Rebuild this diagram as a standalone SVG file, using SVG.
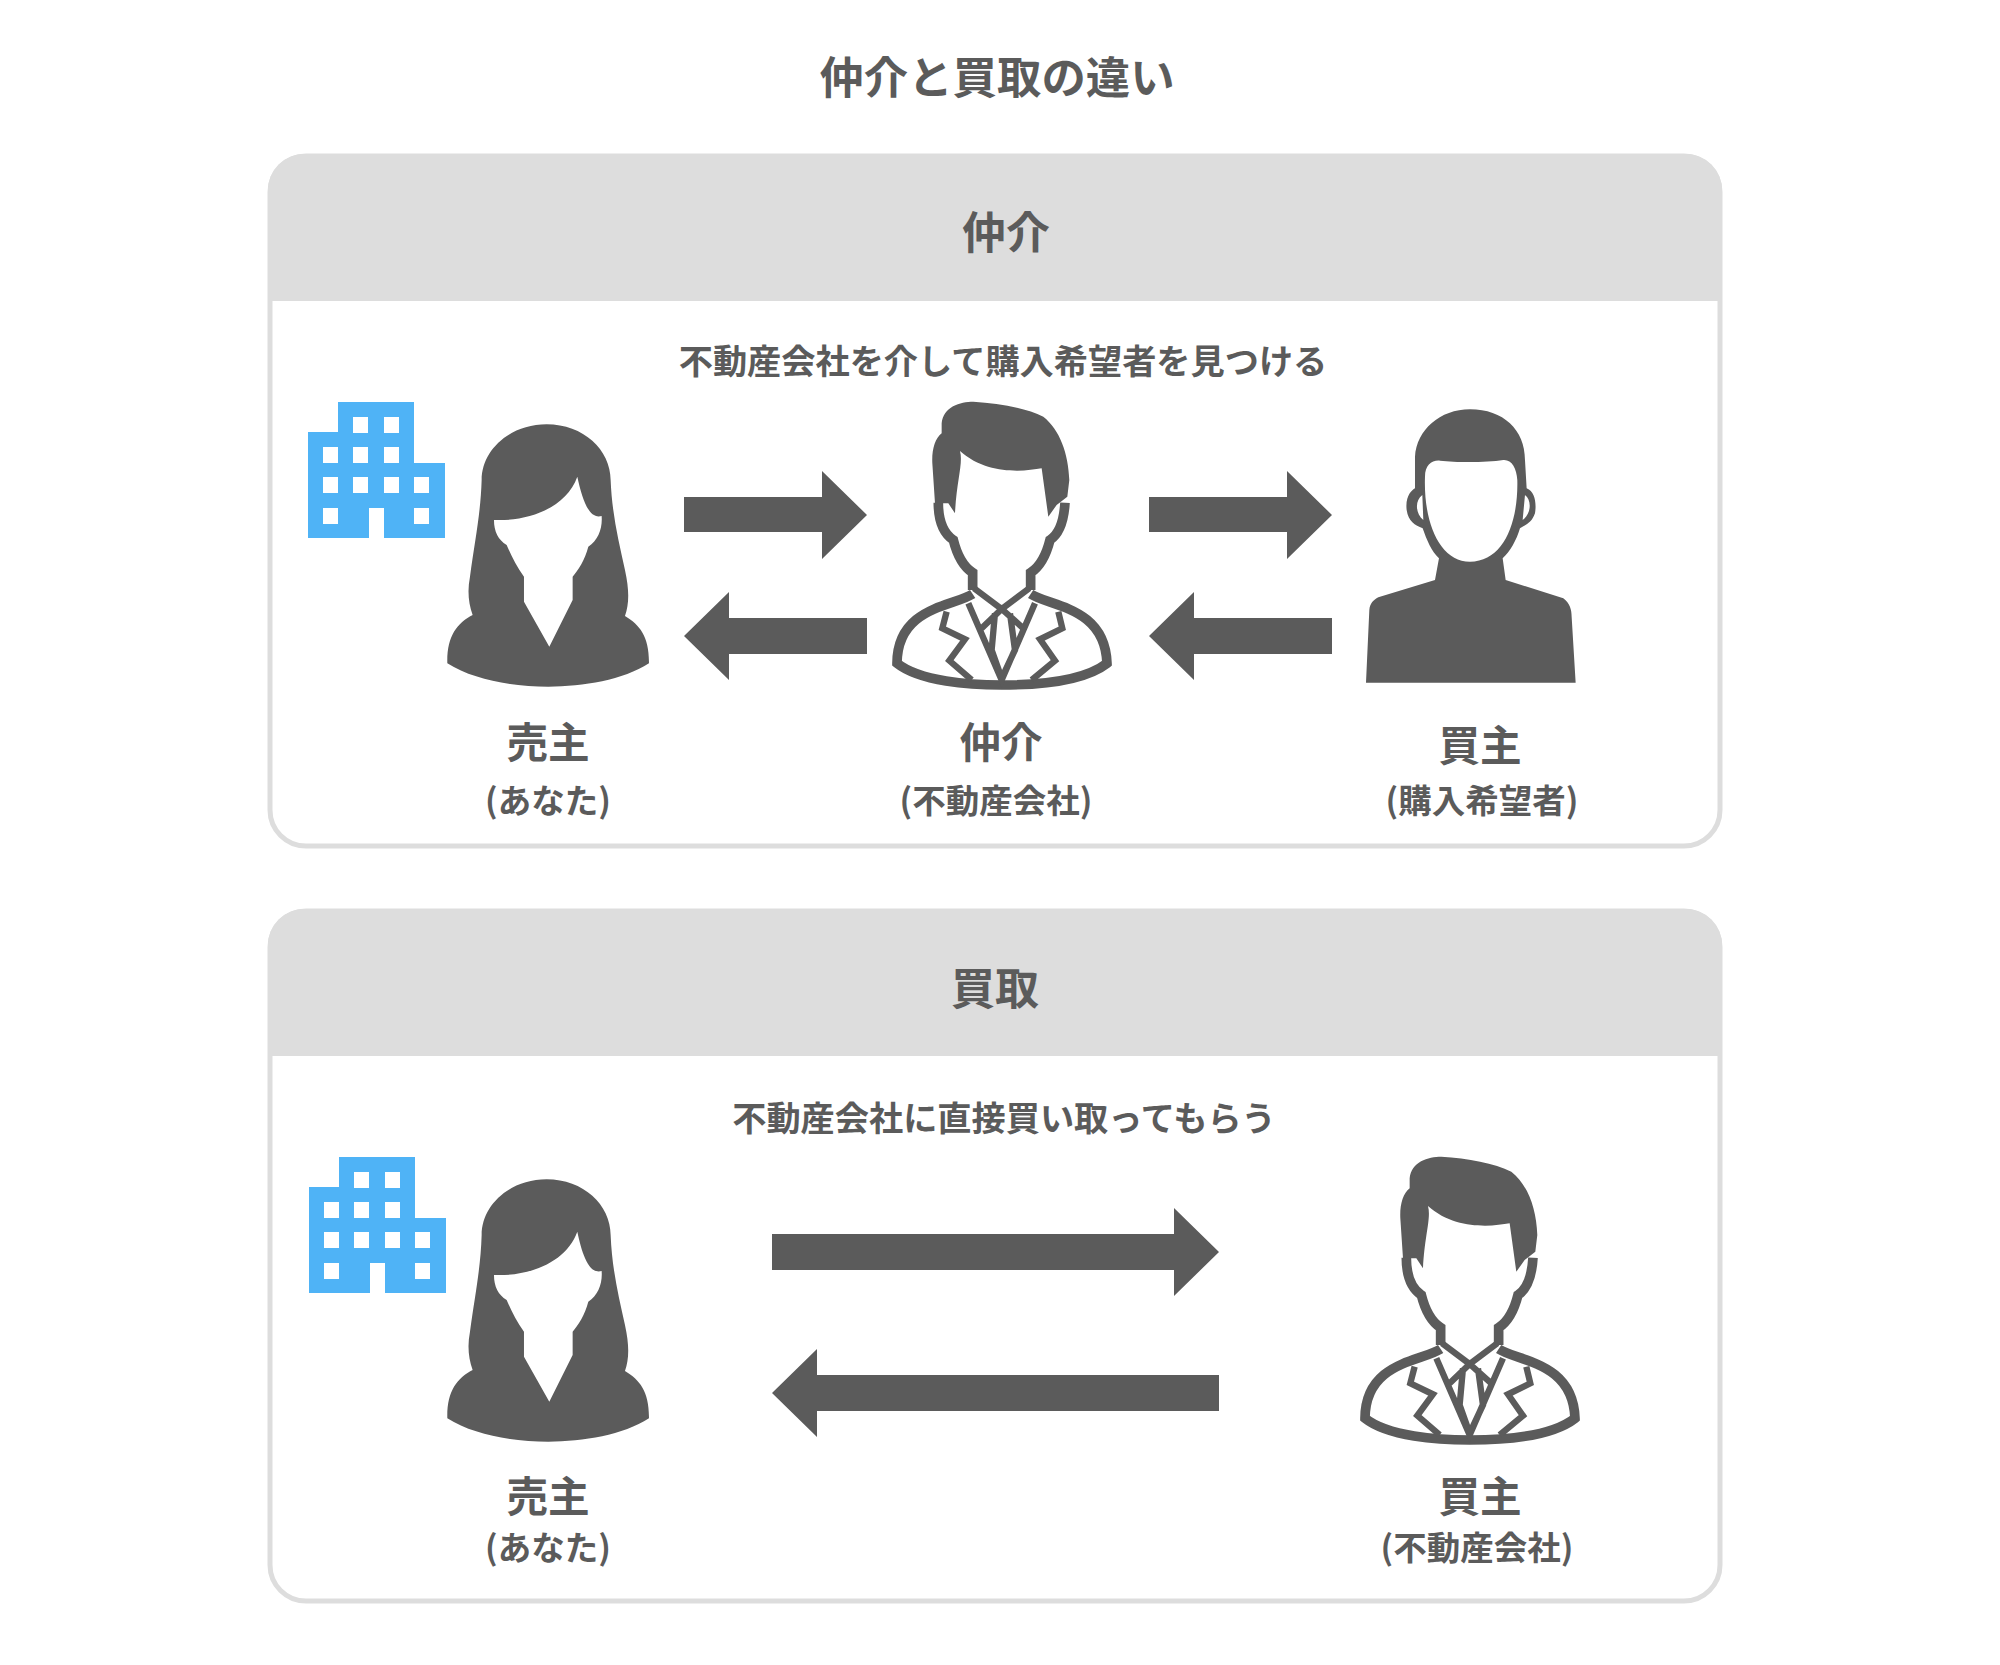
<svg xmlns="http://www.w3.org/2000/svg" xmlns:xlink="http://www.w3.org/1999/xlink" width="2000" height="1665" viewBox="0 0 2000 1665">
<style>
text{font-family:"Noto Sans CJK JP","Noto Sans",sans-serif;font-weight:700;fill:#5b5b5b;text-anchor:middle}
.d{fill:#5b5b5b}
.w{fill:#fff}
.l{fill:none;stroke:#5b5b5b;stroke-width:29;stroke-linejoin:miter}
.i{fill:none;stroke:#5b5b5b;stroke-width:19;stroke-linejoin:miter}
.t{font-size:44.4px}.h{font-size:44px}.s{font-size:34.2px}.n{font-size:41.6px}.c{font-size:33.5px}
.panel{fill:#fff;stroke:#ddd;stroke-width:5}
.head{fill:#ddd}
</style>
<defs>
<g id="building"><path fill="#4fb3f6" fill-rule="evenodd" d="M338 402H414V463H445V538H384V508H369V538H308V432H338ZM353 417v16h15v-16ZM384 417v16h15v-16ZM323 447v16h15v-16ZM353 447v16h15v-16ZM384 447v16h15v-16ZM323 477v16h15v-16ZM353 477v16h15v-16ZM384 477v16h15v-16ZM414 477v16h15v-16ZM323 508v16h15v-16ZM414 508v16h15v-16Z"/></g>
<g id="woman" transform="translate(290 380) scale(.3333)">
<path class="d" d="M770 133C880 133 962 210 962 300C966 400 985 480 1005 570C1018 630 1018 670 1005 708C1050 735 1078 770 1077 850C1000 900 880 920 775 920C670 920 550 900 472 850C470 770 500 730 548 705C535 670 532 630 540 590C555 480 572 400 575 300C575 210 660 133 770 133Z"/>
<path class="w" d="M612 420C720 425 830 380 862 290C875 350 895 420 935 408C938 445 925 480 895 500C885 540 865 570 848 590V660L778 800L702 665V590C680 560 665 530 650 495C625 480 612 455 612 420Z"/>
</g>
<g id="man" transform="translate(860 380) scale(.3333)">
<path class="d" d="M245 130C250 80 300 65 340 65C420 70 500 85 550 110C600 150 625 220 628 300L622 350L590 375L565 410L545 265C490 275 380 285 300 213C310 250 290 300 285 400L265 370L225 370L217 250C215 210 225 175 245 160Z"/>
<path class="l" d="M235 368C235 420 250 460 280 480C290 520 310 560 338 578V630M615 368C612 420 600 460 570 480C560 520 540 560 512 578V630"/>
<path class="l" d="M338 642C280 680 112 680 111 850C180 905 330 915 425 915C530 915 670 905 741 850C735 680 570 680 512 642"/>
<path class="i" d="M342 625L425 687L508 625M325 670L425 900L525 670M365 745L425 687L490 745M405 700L395 810L425 895L465 810L450 700"/>
<path class="i" d="M260 695L247 745L315 778L268 842L335 900M595 695L607 745L540 778L585 842L515 900"/>
</g>
<g id="buyer" transform="translate(1340 390) scale(.3333)">
<path class="d" d="M390 58C490 58 555 120 555 210L560 295C585 305 590 340 585 370C575 400 555 405 540 415C530 450 510 485 488 505L497 570L670 625C690 640 695 660 695 680L707 878H78L88 660C90 640 100 630 115 622L285 570L297 505C275 485 260 450 248 415C225 405 205 395 200 360C195 320 215 300 225 295L225 200C230 120 300 58 390 58Z"/>
<path class="w" d="M255 260C255 225 275 210 300 212C350 218 440 218 490 210C515 208 530 235 532 270C535 400 490 515 390 515C300 515 250 400 255 260ZM247 315C225 330 225 370 250 390ZM555 315C575 330 575 370 548 390Z"/>
</g>
</defs>

<rect width="2000" height="1665" fill="#fff"/>
<text id="title" class="t" x="997" y="94">仲介と買取の違い</text>

<g id="panel-chukai">
<rect class="panel" x="270" y="156" width="1450" height="690" rx="36"/>
<path class="head" d="M268 301V190A36 36 0 0 1 304 154H1686A36 36 0 0 1 1722 190V301Z"/>
<text class="h" x="1006" y="249">仲介</text>
<text class="s" x="1003" y="374">不動産会社を介して購入希望者を見つける</text>
</g>
<g id="panel-kaitori">
<rect class="panel" x="270" y="911" width="1450" height="690" rx="36"/>
<path class="head" d="M268 1056V945A36 36 0 0 1 304 909H1686A36 36 0 0 1 1722 945V1056Z"/>
<text class="h" x="995" y="1005">買取</text>
<text class="s" x="1004" y="1131">不動産会社に直接買い取ってもらう</text>
</g>

<g id="node-seller-1"><use href="#building"/><use href="#woman"/>
<text class="n" x="548" y="758">売主</text><text class="c" x="548" y="813">(あなた)</text></g>
<g id="node-broker-1"><use href="#man"/>
<text class="n" x="1001" y="758">仲介</text><text class="c" x="996" y="813">(不動産会社)</text></g>
<g id="node-buyer-1"><use href="#buyer"/>
<text class="n" x="1480" y="761">買主</text><text class="c" x="1482" y="813">(購入希望者)</text></g>

<g id="node-seller-2" transform="translate(0 755)"><use href="#building" x="1"/><use href="#woman"/>
<text class="n" x="548" y="757">売主</text><text class="c" x="548" y="805">(あなた)</text></g>
<g id="node-buyer-2" transform="translate(468 755)"><use href="#man"/></g>
<g id="node-buyer-2-label"><text class="n" x="1480" y="1512">買主</text><text class="c" x="1477" y="1560">(不動産会社)</text></g>

<g id="connectors" class="d">
<path d="M684 497H822V471L867 515L822 559V532H684Z"/>
<path d="M867 618H729V592L684 636L729 680V654H867Z"/>
<path d="M1149 497H1287V471L1332 515L1287 559V532H1149Z"/>
<path d="M1332 618H1194V592L1149 636L1194 680V654H1332Z"/>
<path d="M772 1234H1174V1208L1219 1252L1174 1296V1270H772Z"/>
<path d="M1219 1375H817V1349L772 1393L817 1437V1411H1219Z"/>
</g>
</svg>
